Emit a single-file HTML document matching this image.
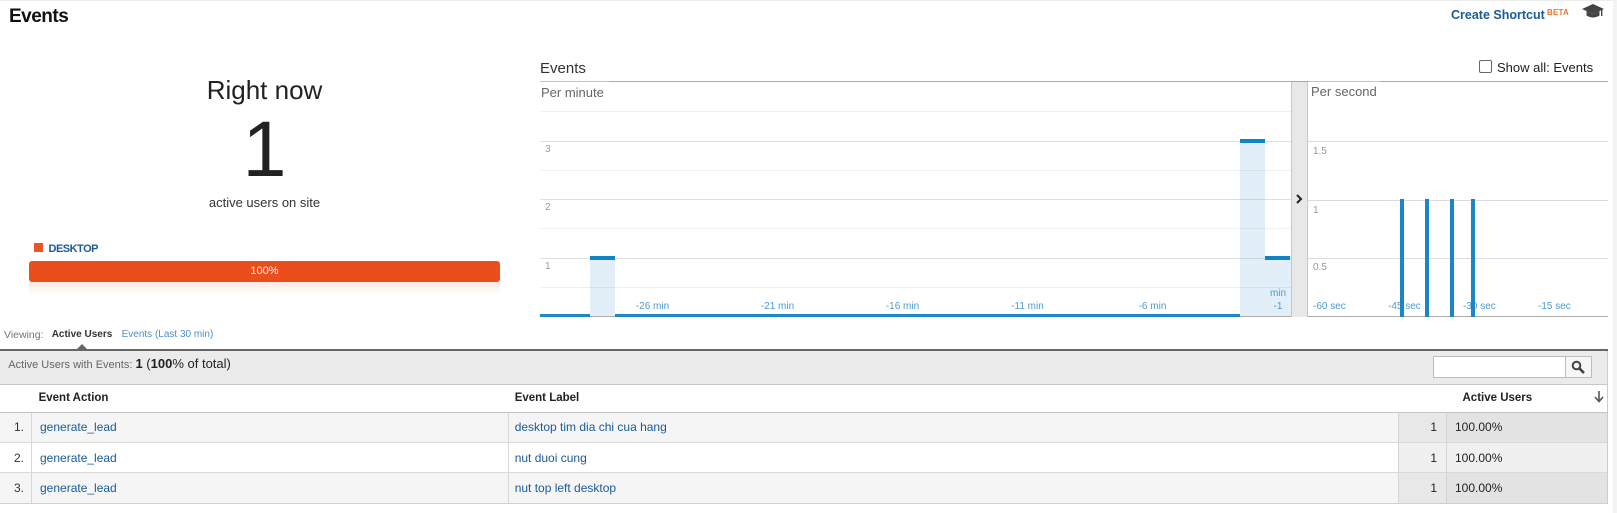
<!DOCTYPE html>
<html>
<head>
<meta charset="utf-8">
<style>
*{margin:0;padding:0;box-sizing:border-box;}
html,body{width:1617px;height:513px;overflow:hidden;background:#fff;font-family:"Liberation Sans",Arial,sans-serif;}
.a{position:absolute;white-space:nowrap;}
.t{position:absolute;white-space:nowrap;line-height:20px;height:20px;}
.gl{position:absolute;height:1px;}
</style>
</head>
<body>
<div class="a" style="left:0;top:0;width:1617px;height:1px;background:#ececec"></div>
<div class="a" style="left:1613px;top:0;width:4px;height:513px;background:#f3f3f3"></div>

<!-- Header -->
<div class="t" style="left:9px;top:7px;font-size:19px;font-weight:bold;color:#111;letter-spacing:-0.5px">Events</div>
<div class="t" style="left:1451px;top:4.5px;font-size:12.5px;font-weight:bold;color:#1a5b98">Create Shortcut</div>
<div class="t" style="left:1547px;top:3px;font-size:8px;font-weight:bold;color:#e8732a;letter-spacing:0.2px">BETA</div>
<svg class="a" style="left:1582px;top:4px" width="22" height="16" viewBox="0 0 22 16">
<polygon points="0,5 11,0 22,5 11,10" fill="#444"/>
<path d="M4.5,7 L4.5,11.5 Q11,15.5 17.5,11.5 L17.5,7 L11,10 Z" fill="#444"/>
<rect x="19" y="5" width="1.4" height="7" fill="#444"/>
</svg>

<!-- Left panel -->
<div class="t" style="left:0;top:78px;width:529px;height:24px;line-height:24px;text-align:center;font-size:26px;color:#222">Right now</div>
<div class="t" style="left:0;top:109px;width:529px;height:80px;line-height:80px;text-align:center;font-size:79px;color:#222">1</div>
<div class="t" style="left:0;top:192.7px;width:529px;text-align:center;font-size:13px;color:#333">active users on site</div>
<div class="a" style="left:34px;top:243px;width:9px;height:9px;background:#eb5424"></div>
<div class="t" style="left:48.5px;top:238.5px;font-size:11px;font-weight:bold;color:#1a5b98;letter-spacing:-0.5px">DESKTOP</div>
<div class="a" style="left:29px;top:261px;width:471px;height:21px;border-radius:3px;background:#e94e1c"></div>
<div class="a" style="left:29px;top:282px;width:471px;height:12px;background:linear-gradient(to bottom,rgba(233,78,28,0.13),rgba(233,78,28,0))"></div>
<div class="t" style="left:29px;top:261px;width:471px;height:21px;line-height:21px;text-align:center;font-size:11px;color:#fff">100%</div>

<!-- Chart header -->
<div class="t" style="left:540px;top:58.5px;font-size:15px;color:#333">Events</div>
<div class="a" style="left:1478.5px;top:59.5px;width:13px;height:13px;border:1px solid #666;border-radius:2px;background:#fff"></div>
<div class="t" style="left:1497px;top:58.3px;font-size:13px;color:#222">Show all: Events</div>
<div class="gl" style="left:540px;top:81px;width:1068px;background:#aaa"></div>
<div class="gl" style="left:540px;top:81px;width:69px;background:#c4c4c4"></div>
<div class="gl" style="left:1308px;top:81px;width:72px;background:#c4c4c4"></div>
<div class="t" style="left:541px;top:82.7px;font-size:13px;color:#666">Per minute</div>
<div class="t" style="left:1311px;top:82.3px;font-size:13px;color:#666">Per second</div>

<!-- Per minute bars fill -->
<div class="a" style="left:590px;top:256px;width:25px;height:61px;background:#e3eff8"></div>
<div class="a" style="left:1240px;top:139px;width:25px;height:178px;background:#e3eff8"></div>
<div class="a" style="left:1265px;top:256px;width:26px;height:61px;background:#e3eff8"></div>

<!-- Per minute gridlines -->
<div class="gl" style="left:540px;top:111px;width:751px;background:rgba(0,0,0,0.06)"></div>
<div class="gl" style="left:540px;top:141px;width:751px;background:rgba(0,0,0,0.12)"></div>
<div class="gl" style="left:540px;top:170px;width:751px;background:rgba(0,0,0,0.06)"></div>
<div class="gl" style="left:540px;top:199px;width:751px;background:rgba(0,0,0,0.12)"></div>
<div class="gl" style="left:540px;top:228px;width:751px;background:rgba(0,0,0,0.06)"></div>
<div class="gl" style="left:540px;top:258px;width:751px;background:rgba(0,0,0,0.12)"></div>
<div class="gl" style="left:540px;top:287px;width:751px;background:rgba(0,0,0,0.06)"></div>
<div class="t" style="left:545px;top:140px;font-size:10px;color:#999">3</div>
<div class="t" style="left:545px;top:198px;font-size:10px;color:#999">2</div>
<div class="t" style="left:545px;top:256.7px;font-size:10px;color:#999">1</div>

<!-- bar tops -->
<div class="a" style="left:590px;top:256px;width:25px;height:4px;background:#0e83c6"></div>
<div class="a" style="left:1240px;top:139px;width:25px;height:4px;background:#0e83c6"></div>
<div class="a" style="left:1265px;top:256px;width:25px;height:4px;background:#0e83c6"></div>

<!-- x axis per minute -->
<div class="a" style="left:540px;top:314px;width:50px;height:3px;background:#1f86c8"></div>
<div class="a" style="left:615px;top:314px;width:625px;height:3px;background:#1f86c8"></div>
<div class="gl" style="left:590px;top:316px;width:25px;background:#aaa"></div>
<div class="gl" style="left:1240px;top:316px;width:51px;background:#aaa"></div>

<div class="t" style="left:612.5px;top:296.5px;width:80px;text-align:center;font-size:10px;color:#4a9bd6">-26 min</div>
<div class="t" style="left:737.5px;top:296.5px;width:80px;text-align:center;font-size:10px;color:#4a9bd6">-21 min</div>
<div class="t" style="left:862.5px;top:296.5px;width:80px;text-align:center;font-size:10px;color:#4a9bd6">-16 min</div>
<div class="t" style="left:987.5px;top:296.5px;width:80px;text-align:center;font-size:10px;color:#4a9bd6">-11 min</div>
<div class="t" style="left:1112.5px;top:296.5px;width:80px;text-align:center;font-size:10px;color:#4a9bd6">-6 min</div>
<div class="t" style="left:1268px;top:284px;width:20px;text-align:center;font-size:10px;color:#4a9bd6">min</div>
<div class="t" style="left:1268px;top:296.7px;width:20px;text-align:center;font-size:10px;color:#4a9bd6">-1</div>

<!-- splitter -->
<div class="a" style="left:1291px;top:82px;width:17px;height:235px;background:#e8e8e8;border-left:1px solid #c8c8c8;border-right:1px solid #c8c8c8"></div>
<svg class="a" style="left:1295px;top:194px" width="8" height="10" viewBox="0 0 8 10"><polyline points="2,1 6,5 2,9" fill="none" stroke="#222" stroke-width="2"/></svg>

<!-- per second -->
<div class="gl" style="left:1308px;top:141px;width:300px;background:#dcdcdc"></div>
<div class="gl" style="left:1308px;top:200px;width:300px;background:#dcdcdc"></div>
<div class="gl" style="left:1308px;top:258px;width:300px;background:#dcdcdc"></div>
<div class="gl" style="left:1308px;top:316px;width:300px;background:#aaa"></div>
<div class="t" style="left:1313px;top:141.7px;font-size:10px;color:#999">1.5</div>
<div class="t" style="left:1313px;top:200.7px;font-size:10px;color:#999">1</div>
<div class="t" style="left:1313px;top:258.3px;font-size:10px;color:#999">0.5</div>
<div class="t" style="left:1313px;top:297.3px;font-size:10px;color:#4a9bd6">-60 sec</div>
<div class="t" style="left:1388px;top:297.3px;font-size:10px;color:#4a9bd6">-45 sec</div>
<div class="t" style="left:1463px;top:297.3px;font-size:10px;color:#4a9bd6">-30 sec</div>
<div class="t" style="left:1538px;top:297.3px;font-size:10px;color:#4a9bd6">-15 sec</div>
<div class="a" style="left:1400px;top:199px;width:4px;height:118px;background:#1a85c7"></div>
<div class="a" style="left:1425px;top:199px;width:4px;height:118px;background:#1a85c7"></div>
<div class="a" style="left:1450px;top:199px;width:4px;height:118px;background:#1a85c7"></div>
<div class="a" style="left:1471px;top:199px;width:4px;height:118px;background:#1a85c7"></div>

<!-- Viewing row -->
<div class="t" style="left:4px;top:325.3px;font-size:10.5px;color:#777">Viewing:</div>
<div class="t" style="left:51.7px;top:325.3px;font-size:10px;font-weight:bold;color:#333">Active Users</div>
<div class="t" style="left:121.6px;top:325.3px;font-size:10px;color:#4b8fcf">Events (Last 30 min)</div>
<svg class="a" style="left:76px;top:344px" width="12" height="6" viewBox="0 0 12 6"><polygon points="0,6 6,0 12,6" fill="#666"/></svg>

<!-- Table -->
<div class="a" style="left:0;top:349px;width:1608px;height:2px;background:#666"></div>
<div class="a" style="left:0;top:351px;width:1608px;height:34px;background:#ebebeb;border-right:1px solid #ccc"></div>
<div class="t" style="left:8.3px;top:354.3px;font-size:11px;color:#666">Active Users with Events: <span style="font-size:13px;color:#222"><b>1</b> (<b>100</b>% of total)</span></div>
<div class="a" style="left:1433px;top:356px;width:133px;height:22px;background:#fff;border:1px solid #bdbdbd"></div>
<div class="a" style="left:1565px;top:356px;width:27px;height:22px;background:#f6f6f6;border:1px solid #bdbdbd"></div>
<svg class="a" style="left:1571px;top:360px" width="14" height="14" viewBox="0 0 14 14"><circle cx="5.5" cy="5.5" r="3.8" fill="none" stroke="#444" stroke-width="2"/><line x1="8.3" y1="8.3" x2="12.2" y2="12.2" stroke="#444" stroke-width="2.6" stroke-linecap="round"/></svg>
<div class="gl" style="left:0;top:384px;width:1608px;background:#c8c8c8"></div>

<div class="a" style="left:0;top:385px;width:1608px;height:27px;background:#fff;border-right:1px solid #ccc"></div>
<div class="t" style="left:38.6px;top:387.7px;font-size:11.5px;font-weight:bold;color:#222">Event Action</div>
<div class="t" style="left:514.7px;top:387.7px;font-size:11.5px;font-weight:bold;color:#222">Event Label</div>
<div class="t" style="left:1462.5px;top:387.7px;font-size:11.5px;font-weight:bold;color:#222">Active Users</div>
<svg class="a" style="left:1594px;top:391px" width="10" height="12" viewBox="0 0 10 12"><line x1="5" y1="0" x2="5" y2="10" stroke="#555" stroke-width="1.6"/><polyline points="1,6 5,10.5 9,6" fill="none" stroke="#555" stroke-width="1.6"/></svg>
<div class="a" style="left:0;top:411.5px;width:1608px;height:1.5px;background:#c4c4c4"></div>

<!-- rows -->
<div class="a" style="left:0;top:413px;width:1608px;height:29px;background:#f5f5f5"></div>
<div class="a" style="left:0;top:443px;width:1608px;height:29px;background:#fff"></div>
<div class="a" style="left:0;top:473px;width:1608px;height:30px;background:#f5f5f5"></div>
<div class="a" style="left:1398px;top:413px;width:48px;height:29px;background:#e8e8e8"></div>
<div class="a" style="left:1446px;top:413px;width:162px;height:29px;background:#e3e3e3"></div>
<div class="a" style="left:1398px;top:443px;width:210px;height:29px;background:#f0f0f0"></div>
<div class="a" style="left:1398px;top:473px;width:48px;height:30px;background:#e8e8e8"></div>
<div class="a" style="left:1446px;top:473px;width:162px;height:30px;background:#e3e3e3"></div>
<div class="gl" style="left:0;top:442px;width:1608px;background:#dadada"></div>
<div class="gl" style="left:0;top:472px;width:1608px;background:#dadada"></div>
<div class="gl" style="left:0;top:503px;width:1608px;background:#d0d0d0"></div>
<div class="a" style="left:31px;top:413px;width:1px;height:90px;background:#d8d8d8"></div>
<div class="a" style="left:508px;top:413px;width:1px;height:90px;background:#d8d8d8"></div>
<div class="a" style="left:1398px;top:413px;width:1px;height:90px;background:#d4d4d4"></div>
<div class="a" style="left:1446px;top:413px;width:1px;height:90px;background:#d4d4d4"></div>
<div class="a" style="left:1607px;top:413px;width:1px;height:91px;background:#ccc"></div>

<div class="t" style="left:0;top:416.7px;width:24px;text-align:right;font-size:12px;color:#333">1.</div>
<div class="t" style="left:0;top:447.7px;width:24px;text-align:right;font-size:12px;color:#333">2.</div>
<div class="t" style="left:0;top:477.5px;width:24px;text-align:right;font-size:12px;color:#333">3.</div>
<div class="t" style="left:40px;top:416.7px;font-size:12px;color:#1a5b98">generate_lead</div>
<div class="t" style="left:40px;top:447.7px;font-size:12px;color:#1a5b98">generate_lead</div>
<div class="t" style="left:40px;top:477.5px;font-size:12px;color:#1a5b98">generate_lead</div>
<div class="t" style="left:514.7px;top:416.7px;font-size:12px;color:#1a5b98">desktop tim dia chi cua hang</div>
<div class="t" style="left:514.7px;top:447.7px;font-size:12px;color:#1a5b98">nut duoi cung</div>
<div class="t" style="left:514.7px;top:477.5px;font-size:12px;color:#1a5b98">nut top left desktop</div>
<div class="t" style="left:1400px;top:416.7px;width:37px;text-align:right;font-size:12px;color:#222">1</div>
<div class="t" style="left:1400px;top:447.7px;width:37px;text-align:right;font-size:12px;color:#222">1</div>
<div class="t" style="left:1400px;top:477.5px;width:37px;text-align:right;font-size:12px;color:#222">1</div>
<div class="t" style="left:1455px;top:416.7px;font-size:12px;color:#222">100.00%</div>
<div class="t" style="left:1455px;top:447.7px;font-size:12px;color:#222">100.00%</div>
<div class="t" style="left:1455px;top:477.5px;font-size:12px;color:#222">100.00%</div>
</body>
</html>
